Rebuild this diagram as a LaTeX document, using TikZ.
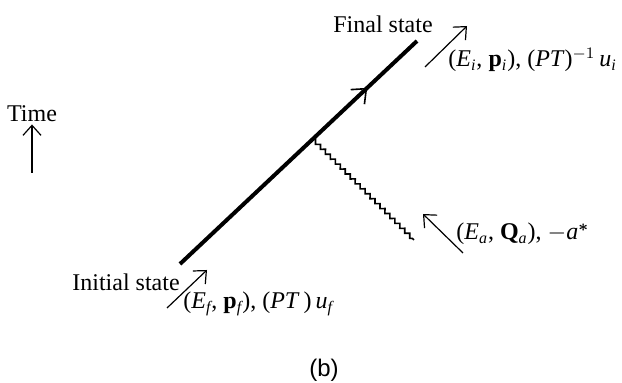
\documentclass[tikz,border=0pt]{standalone}
\usepackage{fontspec}
\setmainfont{Liberation Serif}
\newfontfamily\capfont{Liberation Sans}
\usepackage{amsmath}
\usetikzlibrary{positioning,calc,arrows.meta,decorations.pathmorphing,decorations.markings}

% italic letters and indices in the text font
\newcommand{\vi}[1]{\textit{#1}}
\newcommand{\sub}[1]{$_{\text{\itshape #1}}$}

\begin{document}
\begin{tikzpicture}[
        x=0.5pt, y=-0.5pt,
        world/.style={line width=2pt, postaction={decorate},
                      decoration={markings, mark=at position 0.79 with
                      {\arrow{Straight Barb[length=6pt,width=10pt,line width=0.8pt]}}}},
        photon/.style={line width=0.8pt, decorate,
                       decoration={snake, amplitude=0.9pt, segment length=3.5pt}},
        mom/.style={line width=0.6pt, -{Straight Barb[length=5pt,width=9pt]}},
        lbl/.style={font=\large, inner sep=1pt}
    ]
        \useasboundingbox (0,0) rectangle (622,383);

        % world line of the decaying particle
        \coordinate (ini) at (180,264);
        \coordinate (fin) at (417,41);
        \coordinate (vtx) at ($(ini)!0.56!(fin)$);
        \coordinate (aend) at (414,240);

        \draw[world] (ini) -- (fin);
        \draw[photon] (vtx) -- (aend);

        \node[lbl] (final)   at (383,24)  {Final state};
        \node[lbl] (initial) at (126,282) {Initial state};

        % momentum arrows
        \coordinate (pi0) at (425,67);  \coordinate (pi1) at (467,26);
        \coordinate (pf0) at (167,308); \coordinate (pf1) at (207,270);
        \coordinate (pa0) at (463,253); \coordinate (pa1) at (423,214);
        \draw[mom] (pi0) -- (pi1);
        \draw[mom] (pf0) -- (pf1);
        \draw[mom] (pa0) -- (pa1);

        \node[lbl, anchor=west] (lbli) at (446,60)
            {(\vi{E}\sub{i}, \textbf{p}\sub{i}), (\vi{PT})$^{-1}$\,\vi{u}\sub{i}};
        \node[lbl, anchor=west] (lblf) at (181,304)
            {(\vi{E}\sub{f}, \textbf{p}\sub{f}), (\vi{PT}\,)\,\vi{u}\sub{f}};
        \node[lbl, anchor=west] (lbla) at (454,234)
            {(\vi{E}\sub{a}, \textbf{Q}\sub{a}), $-$\vi{a}$^{\boldsymbol{*}}$};

        % time direction
        \node[lbl] (time) at (32,114) {Time};
        \coordinate (t0) at (32,173);
        \draw[mom] (t0) -- (time.south);

        \node[font=\capfont\large] (cap) at (324,370) {(b)};
    \end{tikzpicture}
\end{document}
